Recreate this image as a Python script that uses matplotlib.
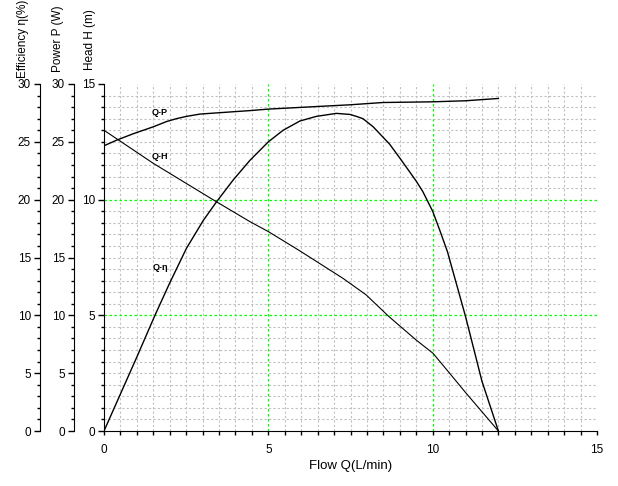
import numpy as np
import matplotlib
matplotlib.use('Agg')
import matplotlib.pyplot as plt
from matplotlib.ticker import MultipleLocator

plt.rcParams['font.family'] = ['Liberation Sans', 'DejaVu Sans']

# Q-H curve (flow L/min, head m)
q_head = [0, 1.5, 3.42, 4.44, 5.0, 5.91, 7.27, 7.98, 8.65, 9.5, 10.01, 10.52, 11.02, 12.0]
head = [13.0, 11.57, 9.91, 9.05, 8.62, 7.83, 6.6, 5.88, 4.97, 3.93, 3.36, 2.49, 1.63, 0]

# Q-P curve (flow L/min, power W)
q_power = [0, 0.39, 0.89, 1.5, 1.9, 2.2, 2.51, 2.92, 3.93, 4.44, 5.0, 6.46, 7.48, 8.49, 10.0, 11.0, 12.0]
power = [24.66, 25.15, 25.7, 26.3, 26.75, 27.0, 27.2, 27.4, 27.6, 27.7, 27.83, 28.05, 28.2, 28.4, 28.46, 28.55, 28.75]

# Q-eta curve (flow L/min, efficiency %)
q_eta = [0, 0.5, 1.0, 1.55, 2.0, 2.51, 3.02, 3.42, 3.93, 4.44, 5.0, 5.45, 5.96, 6.46,
         7.07, 7.48, 7.68, 7.88, 8.19, 8.49, 8.69, 9.0, 9.3, 9.5, 9.7, 10.0, 10.21, 10.45,
         11.0, 11.5, 12.0]
eta = [0, 3.2, 6.4, 10.0, 12.8, 15.8, 18.2, 19.8, 21.7, 23.4, 25.0, 26.0, 26.8, 27.2,
       27.46, 27.37, 27.2, 27.0, 26.3, 25.4, 24.8, 23.6, 22.4, 21.6, 20.7, 19.0, 17.4, 15.5,
       9.9, 4.3, 0]

W, H = 618, 486
fig = plt.figure(figsize=(W / 100, H / 100), dpi=100)
ax = fig.add_axes([104 / W, (H - 431) / H, (597 - 104) / W, (431 - 84) / H])

ax.set_xlim(0, 15)
ax.set_ylim(0, 15)
ax.spines['top'].set_visible(False)
ax.spines['right'].set_visible(False)
ax.xaxis.set_major_locator(MultipleLocator(5))
ax.xaxis.set_minor_locator(MultipleLocator(0.5))
ax.yaxis.set_major_locator(MultipleLocator(5))
ax.yaxis.set_minor_locator(MultipleLocator(0.5))
ax.tick_params(axis='x', which='major', direction='out', length=3, width=1, labelsize=8.5, pad=6)
ax.tick_params(axis='x', which='minor', direction='out', length=3, width=1)
ax.tick_params(axis='y', which='major', direction='out', length=4.5, width=1, labelsize=8.5, pad=2)
ax.tick_params(axis='y', which='minor', direction='out', length=2.5, width=1)

# grids: gray dotted minor, green dotted at 5 and 10
ax.grid(which='minor', color='#c0c0c0', linestyle=(0, (2, 2)), linewidth=0.8)
ax.grid(which='major', color='#00ff00', linestyle=(0, (2, 2)), linewidth=0.9)
fig.canvas.draw()
for t in ax.xaxis.get_major_ticks() + ax.yaxis.get_major_ticks():
    v = t.get_loc()
    if v <= 0 or v >= 15:
        t.gridline.set_visible(False)
ax.set_axisbelow(True)

ax.plot(q_head, head, color='black', linewidth=0.8)

# power and efficiency axes on the left
def left_axis(offset):
    a = ax.twinx()
    a.set_ylim(0, 30)
    for s in ['right', 'top', 'bottom']:
        a.spines[s].set_visible(False)
    a.spines['left'].set_visible(True)
    a.spines['left'].set_position(('outward', offset))
    a.yaxis.set_ticks_position('left')
    a.yaxis.set_major_locator(MultipleLocator(5))
    a.yaxis.set_minor_locator(MultipleLocator(1))
    a.tick_params(axis='y', which='major', direction='out', length=4.5, width=1, labelsize=8.5, pad=2)
    a.tick_params(axis='y', which='minor', direction='out', length=2.5, width=1)
    return a

ax_p = left_axis(30 * 0.72)
ax_e = left_axis(64 * 0.72)

ax_p.plot(q_power, power, color='black', linewidth=1.0)
ax_e.plot(q_eta, eta, color='black', linewidth=1.0)

ax.text(1.7, 13.75, 'Q-P', fontsize=6.5, fontweight='bold', ha='center', va='center')
ax.text(1.7, 11.85, 'Q-H', fontsize=6.5, fontweight='bold', ha='center', va='center')
ax.text(1.73, 7.05, 'Q-η', fontsize=6.5, fontweight='bold', ha='center', va='center')

ax.set_xlabel('Flow Q(L/min)', fontsize=9.5, labelpad=3)

fig.text(23 / W, 1 - 39 / H, 'Efficiency η(%)', rotation=90, ha='center', va='center', fontsize=8.5)
fig.text(58 / W, 1 - 39 / H, 'Power P (W)', rotation=90, ha='center', va='center', fontsize=8.5)
fig.text(90 / W, 1 - 40 / H, 'Head H (m)', rotation=90, ha='center', va='center', fontsize=8.5)

fig.savefig('out.png', dpi=100)
